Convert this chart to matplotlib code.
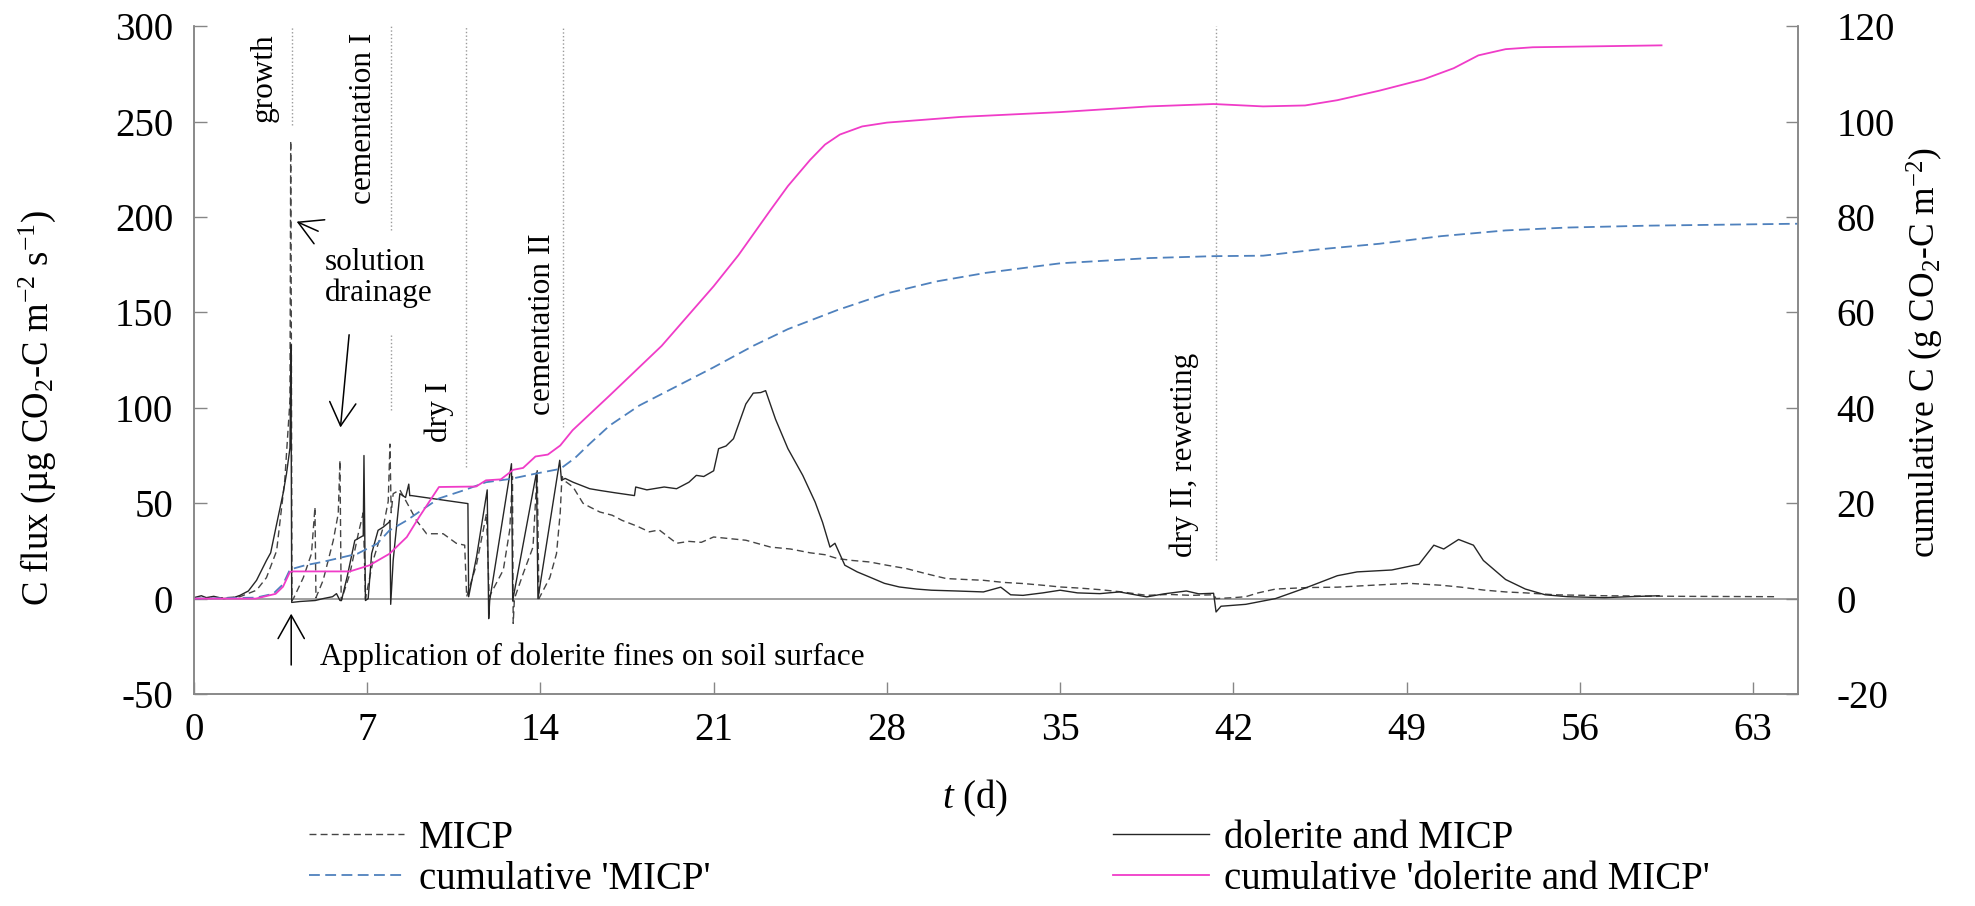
import matplotlib
matplotlib.use('Agg')
import matplotlib.pyplot as plt

plt.rcParams['font.family'] = ['Liberation Serif', 'DejaVu Serif']
plt.rcParams['mathtext.fontset'] = 'custom'
plt.rcParams['mathtext.rm'] = 'Liberation Serif'
plt.rcParams['mathtext.it'] = 'Liberation Serif:italic'
plt.rcParams['axes.unicode_minus'] = False

# C flux, MICP (ug CO2-C m-2 s-1)
micp_t = [0, 1.0, 1.86, 2.53, 2.93, 3.34, 3.67, 3.88, 3.91, 3.94, 3.96, 4.02, 4.42, 4.75, 4.89, 4.93,
          5.22, 5.63, 5.83, 5.9, 5.95, 6.3, 6.64, 6.84, 6.93, 7.24, 7.65, 7.85, 7.92, 7.97, 8.05,
          8.32, 8.7, 8.99, 9.4, 10.07, 10.6, 10.94, 11.02, 11.42, 11.82, 11.93, 12.5, 12.76, 12.87,
          12.9, 12.95, 13.3, 13.7, 13.87, 13.94, 14.38, 14.65, 14.8, 14.87, 14.95, 15.32, 15.72,
          16.0, 16.4, 16.9, 17.3, 17.9, 18.4, 18.8, 19.2, 19.5, 20.0, 20.5, 21.0, 21.6, 22.3, 23.3,
          24.1, 24.9, 25.5, 26.0, 26.6, 27.3, 28.0, 28.8, 29.6, 30.4, 31.2, 31.9, 32.7, 33.5, 34.3,
          35.0, 35.8, 36.6, 37.5, 38.5, 39.4, 40.3, 41.2, 41.3, 42.0, 42.5, 43.0, 43.7, 45.0, 46.2,
          47.6, 49.1, 50.4, 51.2, 52.1, 53.0, 53.8, 55.0, 57.0, 60.0, 64.0]
micp_flux = [0, 0.2, 1, 4.4, 11, 25, 62, 104, 240, 120, -1, 0, 11, 23.6, 48, 0.5,
             9.6, 30.5, 44.5, 72.5, -1, 13, 34, 45, 0, 20, 37.5, 51, 81, 45, 55,
             57, 48, 41, 34, 34, 29, 28, 1, 18, 44.5, 1, 15, 36, 64,
             -13, 0, 13, 27, 67, 0, 11, 23.6, 45, 64, 62, 58.5, 50,
             48, 45.4, 43.7, 41, 38, 35, 36, 32, 29, 30, 29.5, 32.3, 31.5, 30.6, 27,
             26, 24, 23, 21, 20, 19.2, 17.5, 15.7, 13, 10.5, 10, 9.6, 8.5, 7.9, 7,
             6.1, 5.5, 4.7, 3.5, 1.7, 2.2, 1.7, 2, 0, 0.5, 1, 3, 5, 5.8, 6,
             7, 8, 7, 6, 4.5, 3.5, 3, 2, 1.5, 1.2, 1]

# C flux, dolerite and MICP
dol_t = [0, 0.3, 0.5, 0.8, 1.2, 1.6, 1.86, 2.2, 2.53, 2.93, 3.1, 3.34, 3.6, 3.74, 3.88, 3.92, 3.95,
         4.3, 4.9, 5.22, 5.6, 5.76, 5.9, 5.96, 6.2, 6.5, 6.84, 6.87, 6.93, 7.04, 7.18, 7.44, 7.65,
         7.88, 7.92, 7.95, 8.05, 8.32, 8.55, 8.68, 8.72, 8.79, 11.07, 11.1, 11.42, 11.85, 11.91,
         11.95, 12.83, 12.88, 13.84, 13.9, 14.78, 14.85, 15.0, 15.32, 15.99, 16.4, 17.0, 17.8,
         17.85, 18.3, 19.0, 19.5, 20.0, 20.3, 20.6, 21.0, 21.2, 21.5, 21.8, 22.3, 22.6, 22.9, 23.1,
         23.5, 24.0, 24.6, 25.1, 25.4, 25.7, 25.9, 26.3, 26.8, 27.3, 27.9, 28.5, 29.2, 29.8, 30.8,
         31.9, 32.6, 33.0, 33.5, 34.3, 35.0, 35.7, 36.6, 37.4, 38.5, 39.2, 40.1, 40.6, 41.2, 41.3,
         41.5, 42.5, 43.7, 45.0, 46.2, 47.0, 48.4, 49.5, 50.1, 50.5, 51.1, 51.7, 52.1, 53.0, 53.8,
         54.6, 55.5, 57.0, 58.0, 59.2]
dol_flux = [0.5, 1.5, 0.5, 1.2, 0, 0.5, 1.7, 4, 9.6, 20, 24, 39, 55, 65.5, 79, 133, -2,
            -1.5, -1, 0, 1, 2.6, -1, -1, 12, 30.5, 33, 75, -1, 0, 23.6, 35.8, 37.5,
            40, 41, -3, 20, 55, 53, 60, 54, 54, 49.8, 1, 22, 57, -10.5,
            -1, 70.7, -1, 66, 0, 72.5, 62, 63, 61, 57.6, 56.7, 55.5, 54,
            58.5, 57, 58.5, 57.6, 61, 64.6, 64, 67, 78.6, 80, 83.8, 102, 107.7, 108, 109,
            94, 78.6, 64.6, 50.6, 40, 27, 29, 17.5, 14, 11.3, 8, 6.1, 5, 4.4, 4,
            3.5, 6, 2, 1.7, 3, 4.4, 3, 2.6, 3.5, 0.9, 2.5, 4, 2.5, 2.8, -7,
            -4, -3, 0, 6, 12, 14, 15, 18, 28, 26, 31, 28, 20, 10, 5,
            2, 1, 0.5, 1, 1.5]

# cumulative C (g CO2-C m-2)
cum_micp_t = [0, 2.5, 3.2, 3.6, 3.88, 4.5, 5.2, 6.6, 7.4, 7.9, 8.6, 9.3, 9.9, 10.9, 11.8, 12.8,
              13.8, 14.8, 15.4, 16.0, 16.8, 18.0, 19.5, 21.0, 22.6, 24.0, 26.0, 28.0, 30.0, 32.0,
              35.0, 38.6, 41.2, 43.2, 45.4, 47.9, 50.4, 53.0, 55.5, 58.8, 64.8]
cum_micp = [0, 0.2, 1, 3, 6.1, 7, 7.7, 9.4, 11.5, 14.3, 16.4, 18.9, 21, 22.7, 24.4, 25.1,
            26.2, 27.2, 29.5, 32.5, 36.3, 40.5, 44.5, 48.5, 53, 56.5, 60.5, 64, 66.5, 68.3,
            70.3, 71.4, 71.8, 71.9, 73.2, 74.4, 76.0, 77.2, 77.8, 78.2, 78.6]

cum_dol_t = [0, 2.5, 3.3, 3.6, 3.88, 4.0, 6.3, 7.1, 7.9, 8.6, 9.1, 9.9, 11.4, 11.8, 12.4, 12.9,
             13.3, 13.8, 14.3, 14.8, 15.3, 16.8, 18.9, 21.0, 22.0, 23.3, 24.0, 24.9, 25.5, 26.1,
             27.0, 28.0, 31.0, 35.0, 38.6, 41.2, 43.2, 44.9, 46.2, 47.9, 49.7, 50.9, 51.9, 53.0,
             54.1, 59.3]
cum_dol = [0, 0, 1, 2.5, 5.6, 5.7, 5.7, 7, 9.4, 12.9, 17.1, 23.4, 23.5, 24.8, 25, 27,
           27.4, 29.8, 30.2, 32.1, 35.3, 42.6, 53, 65.5, 72, 81.5, 86.5, 92, 95.2, 97.3,
           99, 99.8, 101, 102, 103.2, 103.7, 103.2, 103.4, 104.5, 106.5, 108.9, 111.2, 113.9, 115.2,
           115.6, 116.0]

x_ticks = [0, 7, 14, 21, 28, 35, 42, 49, 56, 63]
left_ticks = [-50, 0, 50, 100, 150, 200, 250, 300]
right_ticks = [-20, 0, 20, 40, 60, 80, 100, 120]

fig = plt.figure(figsize=(19.75, 9.06), dpi=100)
ax = fig.add_axes([0.0982, 0.234, 0.812, 0.737])
ax2 = ax.twinx()

grey = '#868686'
ax.axhline(0, color=grey, lw=1.1, zorder=1)

l1, = ax.plot(micp_t, micp_flux, color='#454545', lw=1.0, ls=(0, (5, 3)), label='MICP')
l2, = ax.plot(dol_t, dol_flux, color='#262626', lw=1.0, label='dolerite and MICP')
l3, = ax2.plot(cum_micp_t, cum_micp, color='#4f81bd', lw=1.3, ls=(0, (6, 3)), label="cumulative 'MICP'")
l4, = ax2.plot(cum_dol_t, cum_dol, color='#f03cc8', lw=1.3, label="cumulative 'dolerite and MICP'")

ax.set_xlim(0, 64.8)
ax.set_ylim(-50, 300)
ax2.set_ylim(-20, 120)
ax.set_xticks(x_ticks)
ax.set_yticks(left_ticks)
ax2.set_yticks(right_ticks)

for a in (ax, ax2):
    a.spines['top'].set_visible(False)
    for s in ('left', 'right', 'bottom'):
        a.spines[s].set_color(grey)
        a.spines[s].set_linewidth(1.1)
ax.tick_params(axis='both', direction='in', length=9, width=1, color=grey, labelsize=28)
ax.tick_params(axis='y', pad=15)
ax.tick_params(axis='x', pad=13)
ax2.tick_params(axis='y', direction='in', length=9, width=1, color=grey, labelsize=28, pad=28)

ax.set_xlabel('$t$ (d)', fontsize=28)
ax.xaxis.set_label_coords(0.487, -0.125)
ax.set_ylabel('C flux (µg CO$_2$-C m$^{-2}$ s$^{-1}$)', fontsize=26.5)
ax.yaxis.set_label_coords(-0.085, 0.428)
ax2.set_ylabel('cumulative C (g CO$_2$-C m$^{-2}$)', fontsize=25.5)
ax2.yaxis.set_label_coords(1.067, 0.512)

# phase boundaries
dot = dict(color='#9a9a9a', lw=1.0, ls=':')
ax.vlines([3.95, 7.95, 11.0, 14.9, 41.3], [248, 193, 69, 90, 20], 300, **dot)
ax.vlines(7.95, 99, 138, **dot)

fs = 22.5
ax.text(2.84, 250, 'growth', rotation=90, ha='center', va='bottom', fontsize=fs)
ax.text(6.84, 207, 'cementation I', rotation=90, ha='center', va='bottom', fontsize=fs)
ax.text(9.9, 82, 'dry I', rotation=90, ha='center', va='bottom', fontsize=fs)
ax.text(14.08, 96, 'cementation II', rotation=90, ha='center', va='bottom', fontsize=fs)
ax.text(40.0, 22, 'dry II, rewetting', rotation=90, ha='center', va='bottom', fontsize=fs)
ax.text(5.29, 184, 'solution\ndrainage', ha='left', va='top', fontsize=fs, linespacing=1.1)
ax.text(5.09, -35, 'Application of dolerite fines on soil surface', ha='left', va='baseline', fontsize=fs)

arrow = dict(arrowstyle='->,head_length=0.8,head_width=0.45', color='black', lw=1.1,
             shrinkA=0, shrinkB=0, mutation_scale=21)
ax.annotate('', xy=(4.15, 197.6), xytext=(15.5, -6.9), textcoords='offset points', arrowprops=arrow)
ax.annotate('', xy=(5.92, 89.7), xytext=(6.27, 138.3), arrowprops=arrow)
ax.annotate('', xy=(3.93, -7.9), xytext=(3.93, -34.8), arrowprops=arrow)

fig.legend([l1, l3, l2, l4], [l1.get_label(), l3.get_label(), l2.get_label(), l4.get_label()],
           loc='center', bbox_to_anchor=(0.511, 0.052), ncol=2, frameon=False, fontsize=28,
           handlelength=2.45, handletextpad=0.39, columnspacing=10.35, labelspacing=0.1,
           borderpad=0)

fig.savefig('out.png', dpi=100)
